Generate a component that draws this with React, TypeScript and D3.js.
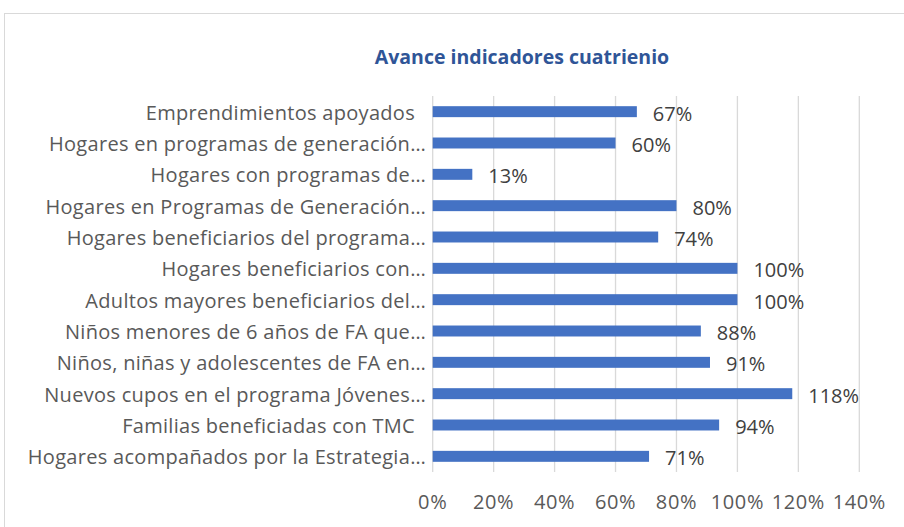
import * as d3 from 'd3';

const categories = [
  'Emprendimientos apoyados  ',
  'Hogares en programas de generación…',
  'Hogares con programas de…',
  'Hogares en Programas de Generación…',
  'Hogares beneficiarios del programa…',
  'Hogares beneficiarios con…',
  'Adultos mayores beneficiarios del…',
  'Niños menores de 6 años de FA que…',
  'Niños, niñas y adolescentes de FA en…',
  'Nuevos cupos en el programa Jóvenes…',
  'Familias beneficiadas con TMC  ',
  'Hogares acompañados por la Estrategia…',
];
const values = [67, 60, 13, 80, 74, 100, 100, 88, 91, 118, 94, 71];
const ticks = [0, 20, 40, 60, 80, 100, 120, 140];

const W = 904;
const H = 527;
const FONT = '"Open Sans", sans-serif';
const FS = 20;

export default function App() {
  const x = d3.scaleLinear().domain([0, 140]).range([432.7, 859.3]);
  const y = d3.scaleBand().domain(categories).range([96, 472]).paddingInner(0.65).paddingOuter(0.325);
  const bw = y.bandwidth();

  return (
    <svg width={W} height={H} style={{ position: 'absolute', left: 0, top: 0, background: '#fff' }}>
      <rect x={4.5} y={13.5} width={1000} height={1000} fill="#fff" stroke="#d9d9d9" />
      <text x={522} y={64} textAnchor="middle" fontFamily={FONT} fontWeight="bold" fontSize={19.5} fill="#2f5597">
        Avance indicadores cuatrienio
      </text>
      {ticks.map(t => (
        <g key={t}>
          <line x1={x(t)} x2={x(t)} y1={96} y2={472} stroke="#d9d9d9" strokeWidth={1.3} />
          <text x={x(t)} y={509} textAnchor="middle" fontFamily={FONT} fontSize={FS} letterSpacing={0.6} fill="#595959">
            {d3.format('.0%')(t / 100)}
          </text>
        </g>
      ))}
      {categories.map((c, i) => {
        const cy = (y(c) ?? 0) + bw / 2;
        return (
          <g key={c}>
            <rect x={x(0)} y={y(c)} width={x(values[i]) - x(0)} height={bw} fill="#4472c4" />
            <text x={426} y={cy + 8} textAnchor="end" fontFamily={FONT} fontSize={FS} letterSpacing={0.3} fill="#595959" style={{ whiteSpace: 'pre' }}>
              {c}
            </text>
            <text x={x(values[i]) + 16} y={cy + 9} fontFamily={FONT} fontSize={FS} fill="#404040">
              {values[i]}%
            </text>
          </g>
        );
      })}
    </svg>
  );
}
